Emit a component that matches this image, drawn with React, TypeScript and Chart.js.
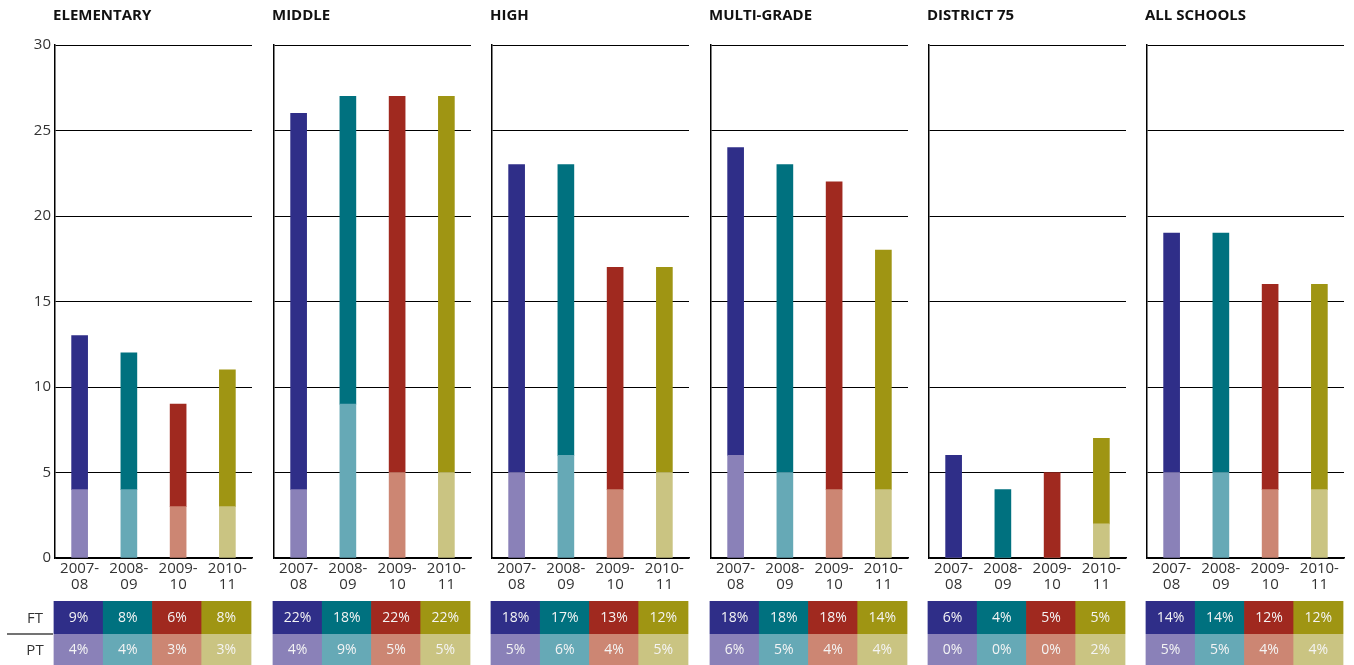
import React, { useEffect, useRef } from "react";
import { Chart, registerables } from "chart.js";

Chart.register(...registerables);

const panelTitles = ["ELEMENTARY", "MIDDLE", "HIGH", "MULTI-GRADE", "DISTRICT 75", "ALL SCHOOLS"];
const schoolYears = [["2007-", "08"], ["2008-", "09"], ["2009-", "10"], ["2010-", "11"]];
const ftPercent = [
  [9, 8, 6, 8],
  [22, 18, 22, 22],
  [18, 17, 13, 12],
  [18, 18, 18, 14],
  [6, 4, 5, 5],
  [14, 14, 12, 12],
];
const ptPercent = [
  [4, 4, 3, 3],
  [4, 9, 5, 5],
  [5, 6, 4, 5],
  [6, 5, 4, 4],
  [0, 0, 0, 2],
  [5, 5, 4, 4],
];
const rowLabels = ["FT", "PT"];
const yMax = 30;
const yStep = 5;

const ftColors = ["#2f2e88", "#00717f", "#a0291f", "#9f9513"];
const ptColors = ["#8a81b8", "#66a9b6", "#cc8673", "#cac482"];

const FONT = "'Open Sans', 'Noto Sans', sans-serif";
const PLOT_LEFTS = [55, 274, 492, 711, 929, 1147];
const PLOT_WIDTH = 197;
const CANVAS_OFFSET = 50;
const CANVAS_W = 250;
const CANVAS_H = 665;
const PLOT_TOP = 45;
const PLOT_BOTTOM = 558;
const ROW1_TOP = 601;
const ROW1_H = 33;
const ROW2_H = 31;

const panelPlugin = {
  id: "panelExtras",
  afterDraw(chart: any, _args: any, opts: any) {
    const { ctx, chartArea, scales } = chart;
    const x = scales.x;
    ctx.save();
    // title
    ctx.font = `bold 15px ${FONT}`;
    ctx.fillStyle = "#111";
    ctx.textAlign = "left";
    ctx.textBaseline = "middle";
    ctx.fillText(opts.title, chartArea.left - 2, 16);

    // table
    const n = opts.ft.length;
    const cellW = (chartArea.right - chartArea.left + 3) / n;
    ctx.font = `14px ${FONT}`;
    ctx.textAlign = "center";
    for (let i = 0; i < n; i++) {
      const cx = x.getPixelForValue(i);
      const left = cx - cellW / 2 - 1;
      ctx.fillStyle = ftColors[i];
      ctx.fillRect(left, ROW1_TOP, cellW, ROW1_H);
      ctx.fillStyle = ptColors[i];
      ctx.fillRect(left, ROW1_TOP + ROW1_H, cellW, ROW2_H);
      ctx.fillStyle = "#f4f4f4";
      ctx.fillText(`${opts.ft[i]}%`, cx - 1, ROW1_TOP + ROW1_H / 2 + 1);
      ctx.fillText(`${opts.pt[i]}%`, cx - 1, ROW1_TOP + ROW1_H + ROW2_H / 2 + 1);
    }

    if (opts.showRowLabels) {
      ctx.font = `15px ${FONT}`;
      ctx.fillStyle = "#333";
      ctx.textAlign = "center";
      const lx = chartArea.left - 20;
      ctx.fillText(rowLabels[0], lx, ROW1_TOP + ROW1_H / 2 + 1);
      ctx.fillText(rowLabels[1], lx, ROW1_TOP + ROW1_H + ROW2_H / 2 + 1);
      ctx.strokeStyle = "#444";
      ctx.lineWidth = 1.5;
      ctx.beginPath();
      ctx.moveTo(chartArea.left - 48, ROW1_TOP + ROW1_H);
      ctx.lineTo(chartArea.left - 2, ROW1_TOP + ROW1_H);
      ctx.stroke();
    }
    ctx.restore();
  },
};

export default function App() {
  const refs = useRef<(HTMLCanvasElement | null)[]>([]);

  useEffect(() => {
    document.body.style.margin = "0";
    const charts = panelTitles.map((title, p) => {
      const canvas = refs.current[p] as HTMLCanvasElement;
      return new Chart(canvas, {
        type: "bar",
        data: {
          labels: schoolYears,
          datasets: [
            { label: rowLabels[1], data: ptPercent[p], backgroundColor: ptColors, barThickness: 16 },
            { label: rowLabels[0], data: ftPercent[p], backgroundColor: ftColors, barThickness: 16 },
          ],
        },
        options: {
          animation: false,
          responsive: false,
          devicePixelRatio: 1,
          layout: {
            padding: { top: PLOT_TOP, right: CANVAS_W - CANVAS_OFFSET - PLOT_WIDTH, left: 0, bottom: 0 },
          },
          plugins: {
            legend: { display: false },
            tooltip: { enabled: false },
            title: { display: false },
            // @ts-ignore
            panelExtras: { title, ft: ftPercent[p], pt: ptPercent[p], showRowLabels: p === 0 },
          },
          scales: {
            x: {
              stacked: true,
              grid: { display: false, drawTicks: false },
              border: { display: true, color: "#000", width: 1.5 },
              ticks: {
                color: "#333",
                padding: 2,
                font: { family: FONT, size: 15, lineHeight: 1.1 },
                maxRotation: 0,
                autoSkip: false,
              },
              afterFit: (a: any) => {
                a.height = CANVAS_H - PLOT_BOTTOM;
              },
            },
            y: {
              stacked: true,
              min: 0,
              max: yMax,
              ticks: {
                stepSize: yStep,
                display: p === 0,
                color: "#333",
                padding: 4,
                font: { family: FONT, size: 15 },
              },
              grid: { color: "#000", lineWidth: 1, drawTicks: false },
              border: { display: true, color: "#000", width: 1.5 },
              afterFit: (a: any) => {
                a.width = CANVAS_OFFSET;
              },
            },
          },
        },
        plugins: [panelPlugin],
      } as any);
    });
    return () => charts.forEach((c) => c.destroy());
  }, []);

  return (
    <div style={{ position: "relative", width: 1354, height: 665, background: "#fff", overflow: "hidden" }}>
      {panelTitles.map((t, p) => (
        <canvas
          key={t}
          ref={(el) => {
            refs.current[p] = el;
          }}
          width={CANVAS_W}
          height={CANVAS_H}
          style={{ position: "absolute", left: PLOT_LEFTS[p] - CANVAS_OFFSET, top: 0, width: CANVAS_W, height: CANVAS_H }}
        />
      ))}
    </div>
  );
}
